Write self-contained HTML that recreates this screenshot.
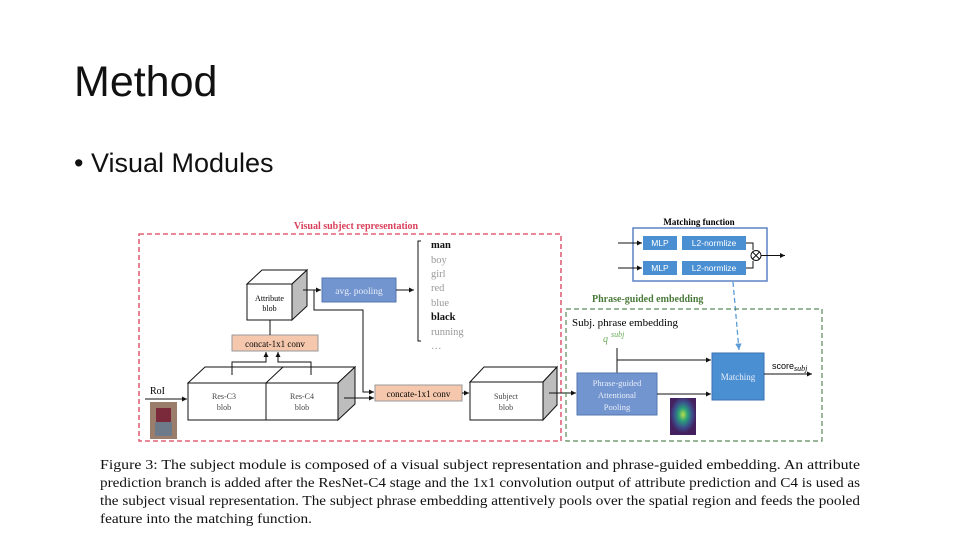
<!DOCTYPE html>
<html><head><meta charset="utf-8"><style>
html,body{margin:0;padding:0;background:#fff;}
svg{display:block}
</style></head><body>
<svg width="960" height="540" viewBox="0 0 960 540" xmlns="http://www.w3.org/2000/svg" font-family="Liberation Serif, serif">
<defs>
<marker id="a" markerWidth="6" markerHeight="6" refX="5" refY="3" orient="auto"><path d="M0,0.5 L5,3 L0,5.5z" fill="#111"/></marker>
<marker id="b" markerWidth="6" markerHeight="6" refX="5" refY="3" orient="auto"><path d="M0,0.5 L5,3 L0,5.5z" fill="#5b9bd5"/></marker>
<radialGradient id="h" cx="0.5" cy="0.45" r="0.5"><stop offset="0" stop-color="#b8e04a"/><stop offset="0.35" stop-color="#2aa07a"/><stop offset="0.7" stop-color="#3b4f8c"/><stop offset="1" stop-color="#44205e"/></radialGradient>
</defs>
<text x="74" y="96" font-family="Liberation Sans, sans-serif" font-size="43" fill="#111">Method</text>
<text x="74" y="172" font-family="Liberation Sans, sans-serif" font-size="27" fill="#111">• Visual Modules</text>

<rect x="139" y="234" width="422" height="207" fill="none" stroke="#d9405a" stroke-width="1.3" stroke-dasharray="5,3"/>
<text x="356" y="229" text-anchor="middle" font-size="10" font-weight="bold" fill="#d9405a">Visual subject representation</text>

<polygon points="247,284 262,270 307,270 292,284" fill="#fff" stroke="#111"/>
<polygon points="292,284 307,270 307,306 292,320" fill="#bdbdbd" stroke="#111"/>
<rect x="247" y="284" width="45" height="36" fill="#fff" stroke="#111"/>
<text x="269.5" y="301" text-anchor="middle" font-size="8">Attribute</text>
<text x="269.5" y="311" text-anchor="middle" font-size="8">blob</text>
<rect x="322" y="278" width="74" height="24" fill="#7294cf" stroke="#5577b0"/>
<text x="359" y="294" text-anchor="middle" font-size="9.5" fill="#e8eef8">avg. pooling</text>
<line x1="303" y1="290" x2="321" y2="290" stroke="#111" marker-end="url(#a)"/>
<line x1="396" y1="290" x2="414" y2="290" stroke="#111" marker-end="url(#a)"/>
<path d="M421,241 L418,241 L418,341 L421,341" fill="none" stroke="#111"/>
<g font-size="10.5" fill="#999">
<text x="431" y="248" font-weight="bold" fill="#111">man</text>
<text x="431" y="263">boy</text>
<text x="431" y="277">girl</text>
<text x="431" y="291">red</text>
<text x="431" y="306">blue</text>
<text x="431" y="320" font-weight="bold" fill="#111">black</text>
<text x="431" y="335">running</text>
<text x="431" y="349">…</text>
</g>
<rect x="232" y="335" width="86" height="16" fill="#f5c8ae" stroke="#999"/>
<text x="275" y="347" text-anchor="middle" font-size="9">concat-1x1 conv</text>
<line x1="270" y1="335" x2="270" y2="320" stroke="#111"/>
<polygon points="188,383 205,367 285,367 268,383" fill="#fff" stroke="#111"/>
<rect x="188" y="383" width="78" height="37" fill="#fff" stroke="#111"/>
<polygon points="266,383 283,367 355,367 338,383" fill="#fff" stroke="#111"/>
<polygon points="338,383 355,367 355,404 338,420" fill="#bdbdbd" stroke="#111"/>
<rect x="266" y="383" width="72" height="37" fill="#fff" stroke="#111"/>
<text x="224" y="399" text-anchor="middle" font-size="8" fill="#444">Res-C3</text>
<text x="224" y="410" text-anchor="middle" font-size="8" fill="#444">blob</text>
<text x="302" y="399" text-anchor="middle" font-size="8" fill="#444">Res-C4</text>
<text x="302" y="410" text-anchor="middle" font-size="8" fill="#444">blob</text>
<path d="M232,375 L232,362 L266,362 L266,352" fill="none" stroke="#111" marker-end="url(#a)"/>
<path d="M311,375 L311,362 L278,362 L278,352" fill="none" stroke="#111" marker-end="url(#a)"/>
<line x1="145" y1="399" x2="187" y2="399" stroke="#111" marker-end="url(#a)"/>
<text x="150" y="394" font-size="10">RoI</text>
<rect x="150" y="402" width="27" height="37" fill="#9a7d6a"/>
<rect x="156" y="408" width="15" height="14" fill="#7a2a3a"/>
<rect x="155" y="422" width="17" height="14" fill="#6c7a8a"/>
<path d="M344,398 L374,398" stroke="#111" fill="none" marker-end="url(#a)"/>
<path d="M314,290 L314,310 L363,310 L363,392 L374,392" stroke="#111" fill="none" marker-end="url(#a)"/>
<rect x="375" y="385" width="87" height="16" fill="#f5c8ae" stroke="#999"/>
<text x="418.5" y="397" text-anchor="middle" font-size="9">concate-1x1 conv</text>
<line x1="462" y1="393" x2="469" y2="393" stroke="#111" marker-end="url(#a)"/>
<polygon points="470,382 484,367 557,367 543,382" fill="#fff" stroke="#111"/>
<polygon points="543,382 557,367 557,405 543,420" fill="#bdbdbd" stroke="#111"/>
<rect x="470" y="382" width="73" height="38" fill="#fff" stroke="#111"/>
<text x="506" y="399" text-anchor="middle" font-size="8" fill="#444">Subject</text>
<text x="506" y="410" text-anchor="middle" font-size="8" fill="#444">blob</text>
<line x1="549" y1="393" x2="576" y2="393" stroke="#111" marker-end="url(#a)"/>

<text x="699" y="225" text-anchor="middle" font-size="9" font-weight="bold">Matching function</text>
<rect x="633" y="228" width="134" height="53" fill="#fff" stroke="#5b82c4" stroke-width="1.5"/>
<g font-family="Liberation Sans, sans-serif" font-size="8.5" fill="#fff">
<rect x="643" y="236" width="34" height="14" fill="#4a8fd2"/><text x="660" y="246" text-anchor="middle">MLP</text>
<rect x="682" y="236" width="64" height="14" fill="#4a8fd2"/><text x="714" y="246" text-anchor="middle">L2-normlize</text>
<rect x="643" y="261" width="34" height="14" fill="#4a8fd2"/><text x="660" y="271" text-anchor="middle">MLP</text>
<rect x="682" y="261" width="64" height="14" fill="#4a8fd2"/><text x="714" y="271" text-anchor="middle">L2-normlize</text>
</g>
<line x1="618" y1="243" x2="642" y2="243" stroke="#111" marker-end="url(#a)"/>
<line x1="618" y1="268" x2="642" y2="268" stroke="#111" marker-end="url(#a)"/>
<path d="M746,243 L753,243 L753,250 M746,268 L753,268 L753,261" fill="none" stroke="#111"/>
<circle cx="756" cy="255.5" r="5" fill="#fff" stroke="#111"/>
<path d="M752.5,252 L759.5,259 M759.5,252 L752.5,259" stroke="#111"/>
<line x1="761" y1="255.5" x2="785" y2="255.5" stroke="#111" marker-end="url(#a)"/>
<line x1="733" y1="282" x2="739" y2="350" stroke="#5b9bd5" stroke-width="1.3" stroke-dasharray="5,3" marker-end="url(#b)"/>

<text x="592" y="302" font-size="10" font-weight="bold" fill="#4a7a3a">Phrase-guided embedding</text>
<rect x="566" y="309" width="256" height="132" fill="none" stroke="#5a8a5a" stroke-width="1.2" stroke-dasharray="5,3"/>
<text x="572" y="326" font-size="11">Subj. phrase embedding</text>
<text x="603" y="342" font-size="10" font-style="italic" fill="#6aaa5a">q</text>
<text x="611" y="337" font-size="8" font-style="italic" fill="#6aaa5a">subj</text>
<path d="M617,348 L617,373" fill="none" stroke="#111"/>
<line x1="617" y1="360" x2="711" y2="360" stroke="#111" marker-end="url(#a)"/>
<rect x="577" y="373" width="80" height="42" fill="#7294cf" stroke="#5577b0"/>
<text x="617" y="386" text-anchor="middle" font-size="8.5" fill="#e8eef8">Phrase-guided</text>
<text x="617" y="398" text-anchor="middle" font-size="8.5" fill="#e8eef8">Attentional</text>
<text x="617" y="410" text-anchor="middle" font-size="8.5" fill="#e8eef8">Pooling</text>
<line x1="657" y1="394" x2="711" y2="394" stroke="#111" marker-end="url(#a)"/>
<rect x="712" y="353" width="52" height="47" fill="#4a8fd2" stroke="#3a70b0"/>
<text x="738" y="380" text-anchor="middle" font-size="9" fill="#e8eef8">Matching</text>
<line x1="764" y1="374" x2="812" y2="374" stroke="#111" marker-end="url(#a)"/>
<text x="772" y="369" font-family="Liberation Sans, sans-serif" font-size="9">score<tspan font-family="Liberation Serif, serif" font-style="italic" font-size="8" dy="2">subj</tspan></text>
<rect x="670" y="398" width="26" height="37" fill="url(#h)"/>

<g font-size="14" fill="#111">
<text x="100" y="469" textLength="760" lengthAdjust="spacingAndGlyphs">Figure 3: The subject module is composed of a visual subject representation and phrase-guided embedding. An attribute</text>
<text x="100" y="487" textLength="760" lengthAdjust="spacingAndGlyphs">prediction branch is added after the ResNet-C4 stage and the 1x1 convolution output of attribute prediction and C4 is used as</text>
<text x="100" y="505" textLength="760" lengthAdjust="spacingAndGlyphs">the subject visual representation. The subject phrase embedding attentively pools over the spatial region and feeds the pooled</text>
<text x="100" y="523" textLength="212" lengthAdjust="spacingAndGlyphs">feature into the matching function.</text>
</g>
</svg>
</body></html>
